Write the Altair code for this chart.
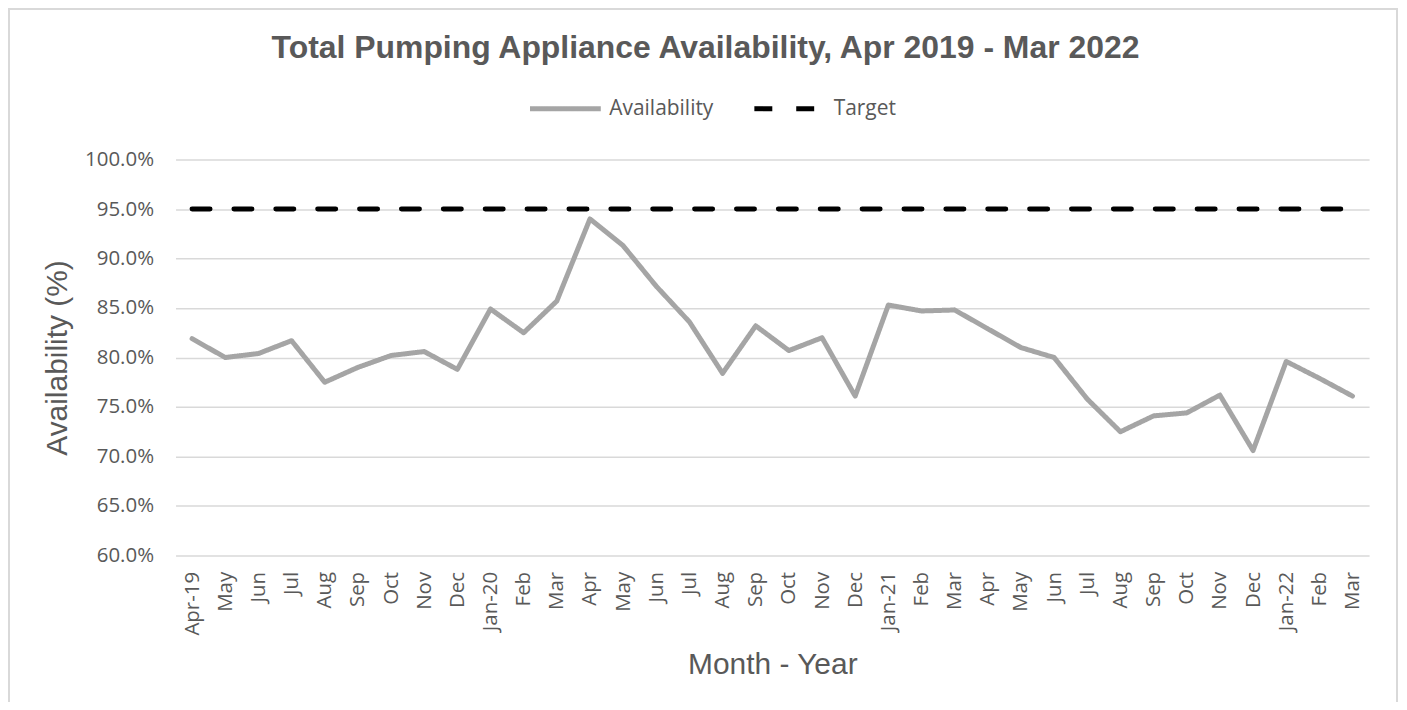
import altair as alt
import pandas as pd

months = ["Apr-19", "May", "Jun", "Jul", "Aug", "Sep", "Oct", "Nov", "Dec",
          "Jan-20", "Feb", "Mar", "Apr", "May", "Jun", "Jul", "Aug", "Sep",
          "Oct", "Nov", "Dec", "Jan-21", "Feb", "Mar", "Apr", "May", "Jun",
          "Jul", "Aug", "Sep", "Oct", "Nov", "Dec", "Jan-22", "Feb", "Mar"]
availability = [81.9, 80.0, 80.4, 81.7, 77.5, 79.0, 80.2, 80.6, 78.8,
                84.9, 82.5, 85.7, 94.0, 91.3, 87.2, 83.6, 78.4, 83.2,
                80.7, 82.0, 76.1, 85.3, 84.7, 84.8, 82.9, 81.0, 80.0,
                75.8, 72.5, 74.1, 74.4, 76.2, 70.6, 79.6, 77.9, 76.1]
target = [95.0] * len(months)
series = ["Availability", "Target"]
y_ticks = [60, 65, 70, 75, 80, 85, 90, 95, 100]

rows = []
for i, v in enumerate(availability):
    rows.append({"idx": i, "series": "Availability", "value": v})
for i, v in enumerate(target):
    rows.append({"idx": i, "series": "Target", "value": v})
df = pd.DataFrame(rows)

TEXT = "#595959"
GRID = "#d9d9d9"
W, H = 1197, 397

label_expr = "[" + ",".join("'" + m + "'" for m in months) + "][datum.value]"

legend_cfg = dict(orient="none", direction="horizontal",
                  legendX=353, legendY=-89, padding=0,
                  symbolType="stroke", symbolSize=5041,
                  symbolStrokeWidth=5, columnPadding=30,
                  labelOffset=6, labelFont="Open Sans",
                  labelFontSize=21, labelColor=TEXT, title=None)

lines = alt.Chart(df).mark_line(strokeWidth=5, strokeCap="round", strokeJoin="round").encode(
    x=alt.X("idx:O", title="Month - Year",
            axis=alt.Axis(labelExpr=label_expr, labelAngle=-90, labelFont="Open Sans",
                          labelFontSize=20.5, labelColor=TEXT, labelPadding=16,
                          ticks=False, domain=False, grid=False,
                          titleFont="Liberation Sans", titleFontSize=30,
                          titleFontWeight="normal", titleColor=TEXT, titlePadding=14)),
    y=alt.Y("value:Q", title="Availability (%)",
            scale=alt.Scale(domain=[60, 100], nice=False, zero=False),
            axis=alt.Axis(values=y_ticks, labelExpr="format(datum.value, '.1f') + '%'",
                          labelFont="Open Sans", labelFontSize=20.5, labelColor=TEXT,
                          labelPadding=22, ticks=False, domain=False,
                          grid=True, gridColor=GRID, gridWidth=1.5,
                          titleFont="Liberation Sans", titleFontSize=30,
                          titleFontWeight="normal", titleColor=TEXT, titlePadding=12)),
    color=alt.Color("series:N", title=None,
                    scale=alt.Scale(domain=series, range=["#a5a5a5", "#000000"]),
                    legend=alt.Legend(**legend_cfg)),
    strokeDash=alt.StrokeDash("series:N", title=None,
                              scale=alt.Scale(domain=series, range=[[1, 0], [18, 24]]),
                              legend=alt.Legend(**legend_cfg)),
)

border = alt.Chart(pd.DataFrame({"a": [0]})).mark_rect(
    filled=False, stroke=GRID, strokeWidth=2
).encode(
    x=alt.value(-167), x2=alt.value(1225), y=alt.value(-151), y2=alt.value(700)
)

chart = alt.layer(border, lines).properties(
    width=W, height=H,
    background="white",
    title=alt.Title("Total Pumping Appliance Availability, Apr 2019 - Mar 2022",
                    font="Liberation Sans", fontSize=32, fontWeight="bold",
                    color=TEXT, anchor="middle", baseline="alphabetic",
                    offset=0, dy=82, dx=-67),
    autosize=alt.AutoSizeParams(type="none"),
    padding={"left": 168, "top": 151, "right": 30, "bottom": 146},
).configure_view(strokeWidth=0)

chart.save("out.html", embed_options={"renderer": "svg", "actions": False})
